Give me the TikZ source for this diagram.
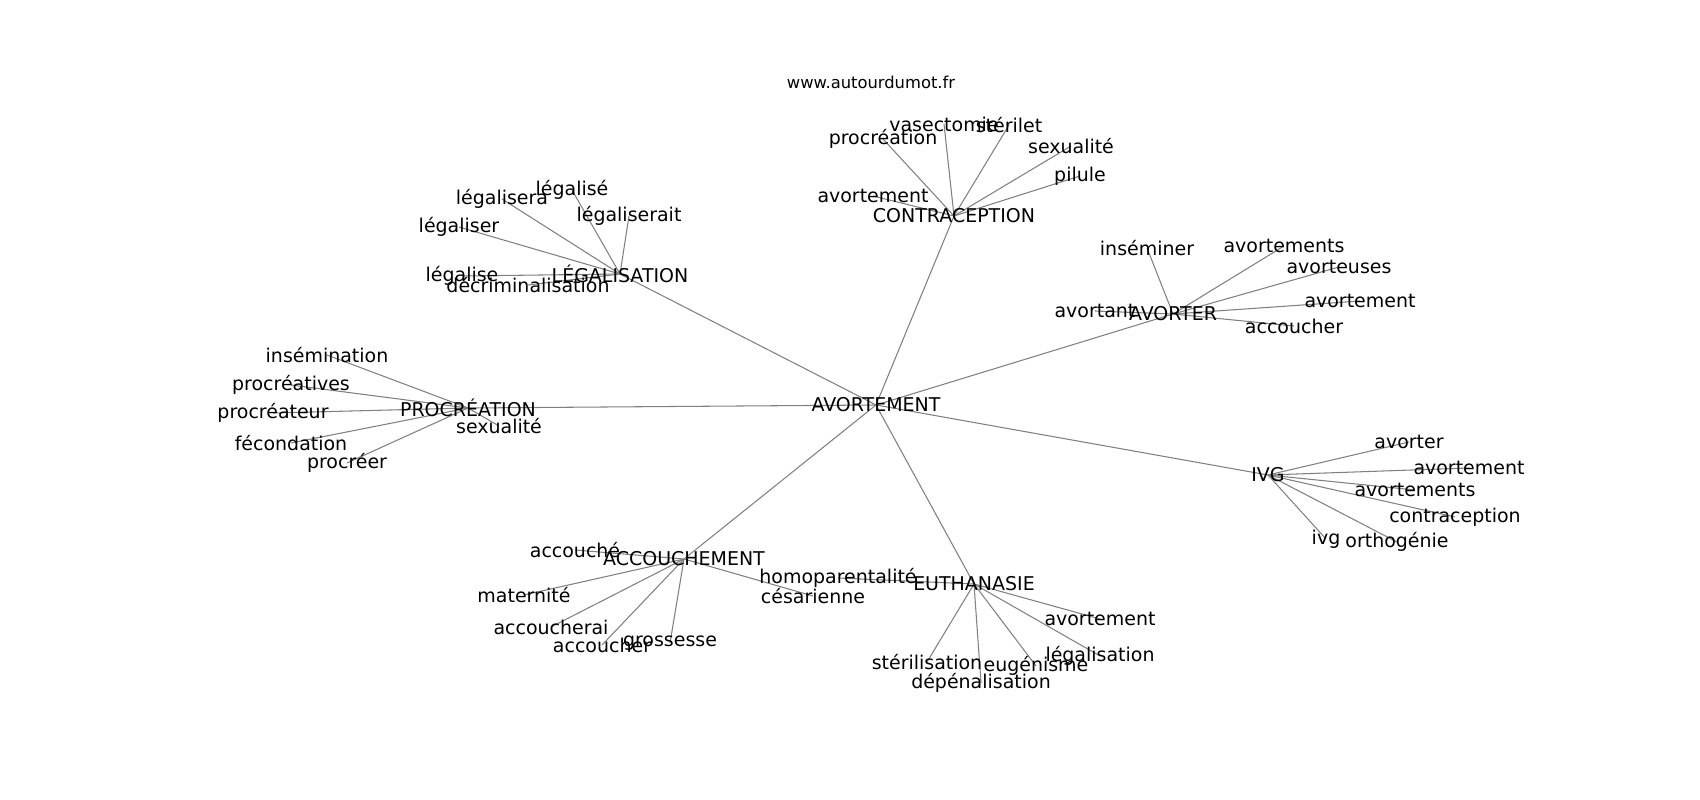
\documentclass[tikz,border=0pt]{standalone}
\usepackage{fontspec}
\setmainfont{DejaVu Sans}
\usetikzlibrary{backgrounds}

\begin{document}
\begin{tikzpicture}[x=0.02cm,y=-0.02cm,
    word/.style={inner sep=0pt,font=\fontsize{10.8}{13}\selectfont},
    site/.style={inner sep=0pt,font=\fontsize{9.3}{11}\selectfont},
    edge/.style={draw=black!50,line width=0.6pt}]
  \useasboundingbox (0,0) rectangle (1700,800);

  \node[site] (site) at (871,82) {www.autourdumot.fr};

  % hubs
  \node[word] (avortement) at (876,405) {AVORTEMENT};
  \node[word] (contraception) at (954,216) {CONTRACEPTION};
  \node[word] (legalisation) at (620,274) {LÉGALISATION};
  \node[word] (avorter) at (1173,314) {AVORTER};
  \node[word] (procreation) at (468,408) {PROCRÉATION};
  \node[word] (ivg) at (1268,475) {IVG};
  \node[word] (accouchement) at (684,559) {ACCOUCHEMENT};
  \node[word] (euthanasie) at (974,584) {EUTHANASIE};

  % contraception
  \node[word] (c-procreation) at (883,139) {procréation};
  \node[word] (c-vasectomie) at (944,124) {vasectomie};
  \node[word] (c-sterilet) at (1009,125) {stérilet};
  \node[word] (c-sexualite) at (1071,146) {sexualité};
  \node[word] (c-pilule) at (1080,176) {pilule};
  \node[word] (c-avortement) at (873,196) {avortement};

  % legalisation
  \node[word] (l-legalise) at (572,190) {légalisé};
  \node[word] (l-legalisera) at (502,199) {légalisera};
  \node[word] (l-legaliserait) at (629,216) {légaliserait};
  \node[word] (l-legaliser) at (459,227) {légaliser};
  \node[word] (l-legalise2) at (462,276) {légalise};
  \node[word] (l-decrim) at (528,285) {décriminalisation};

  % avorter
  \node[word] (a-inseminer) at (1147,248) {inséminer};
  \node[word] (a-avortements) at (1284,246) {avortements};
  \node[word] (a-avorteuses) at (1339,267) {avorteuses};
  \node[word] (a-avortement) at (1360,301) {avortement};
  \node[word] (a-avortant) at (1095,311) {avortant};
  \node[word] (a-accoucher) at (1294,326) {accoucher};

  % ivg
  \node[word] (i-avorter) at (1409,442) {avorter};
  \node[word] (i-avortement) at (1469,468) {avortement};
  \node[word] (i-avortements) at (1415,490) {avortements};
  \node[word] (i-contraception) at (1455,517) {contraception};
  \node[word] (i-ivg) at (1326,539) {ivg};
  \node[word] (i-orthogenie) at (1397,542) {orthogénie};

  % procreation
  \node[word] (p-insemination) at (327,355) {insémination};
  \node[word] (p-procreatives) at (291,385) {procréatives};
  \node[word] (p-procreateur) at (273,413) {procréateur};
  \node[word] (p-fecondation) at (291,443) {fécondation};
  \node[word] (p-procreer) at (347,463) {procréer};
  \node[word] (p-sexualite) at (499,426) {sexualité};

  % accouchement
  \node[word] (ac-accouche) at (575,550) {accouché};
  \node[word] (ac-maternite) at (524,595) {maternité};
  \node[word] (ac-accoucherai) at (551,627) {accoucherai};
  \node[word] (ac-accoucher) at (602,645) {accoucher};
  \node[word] (ac-grossesse) at (670,643) {grossesse};
  \node[word] (ac-cesarienne) at (813,596) {césarienne};

  % euthanasie
  \node[word] (e-homoparentalite) at (838,578) {homoparentalité};
  \node[word] (e-avortement) at (1100,619) {avortement};
  \node[word] (e-legalisation) at (1100,656) {légalisation};
  \node[word] (e-eugenisme) at (1036,666) {eugénisme};
  \node[word] (e-sterilisation) at (927,662) {stérilisation};
  \node[word] (e-depenalisation) at (981,683) {dépénalisation};

  \begin{scope}[on background layer]
    \draw[edge] (avortement.center) -- (contraception.center);
    \draw[edge] (avortement.center) -- (legalisation.center);
    \draw[edge] (avortement.center) -- (avorter.center);
    \draw[edge] (avortement.center) -- (procreation.center);
    \draw[edge] (avortement.center) -- (ivg.center);
    \draw[edge] (avortement.center) -- (accouchement.center);
    \draw[edge] (avortement.center) -- (euthanasie.center);

    \draw[edge] (contraception.center) -- (c-procreation.center);
    \draw[edge] (contraception.center) -- (c-vasectomie.center);
    \draw[edge] (contraception.center) -- (c-sterilet.center);
    \draw[edge] (contraception.center) -- (c-sexualite.center);
    \draw[edge] (contraception.center) -- (c-pilule.center);
    \draw[edge] (contraception.center) -- (c-avortement.center);

    \draw[edge] (legalisation.center) -- (l-legalise.center);
    \draw[edge] (legalisation.center) -- (l-legalisera.center);
    \draw[edge] (legalisation.center) -- (l-legaliserait.center);
    \draw[edge] (legalisation.center) -- (l-legaliser.center);
    \draw[edge] (legalisation.center) -- (l-legalise2.center);
    \draw[edge] (legalisation.center) -- (l-decrim.center);

    \draw[edge] (avorter.center) -- (a-inseminer.center);
    \draw[edge] (avorter.center) -- (a-avortements.center);
    \draw[edge] (avorter.center) -- (a-avorteuses.center);
    \draw[edge] (avorter.center) -- (a-avortement.center);
    \draw[edge] (avorter.center) -- (a-avortant.center);
    \draw[edge] (avorter.center) -- (a-accoucher.center);

    \draw[edge] (ivg.center) -- (i-avorter.center);
    \draw[edge] (ivg.center) -- (i-avortement.center);
    \draw[edge] (ivg.center) -- (i-avortements.center);
    \draw[edge] (ivg.center) -- (i-contraception.center);
    \draw[edge] (ivg.center) -- (i-ivg.center);
    \draw[edge] (ivg.center) -- (i-orthogenie.center);

    \draw[edge] (procreation.center) -- (p-insemination.center);
    \draw[edge] (procreation.center) -- (p-procreatives.center);
    \draw[edge] (procreation.center) -- (p-procreateur.center);
    \draw[edge] (procreation.center) -- (p-fecondation.center);
    \draw[edge] (procreation.center) -- (p-procreer.center);
    \draw[edge] (procreation.center) -- (p-sexualite.center);

    \draw[edge] (accouchement.center) -- (ac-accouche.center);
    \draw[edge] (accouchement.center) -- (ac-maternite.center);
    \draw[edge] (accouchement.center) -- (ac-accoucherai.center);
    \draw[edge] (accouchement.center) -- (ac-accoucher.center);
    \draw[edge] (accouchement.center) -- (ac-grossesse.center);
    \draw[edge] (accouchement.center) -- (ac-cesarienne.center);

    \draw[edge] (euthanasie.center) -- (e-homoparentalite.center);
    \draw[edge] (euthanasie.center) -- (e-avortement.center);
    \draw[edge] (euthanasie.center) -- (e-legalisation.center);
    \draw[edge] (euthanasie.center) -- (e-eugenisme.center);
    \draw[edge] (euthanasie.center) -- (e-sterilisation.center);
    \draw[edge] (euthanasie.center) -- (e-depenalisation.center);
  \end{scope}
\end{tikzpicture}
\end{document}
